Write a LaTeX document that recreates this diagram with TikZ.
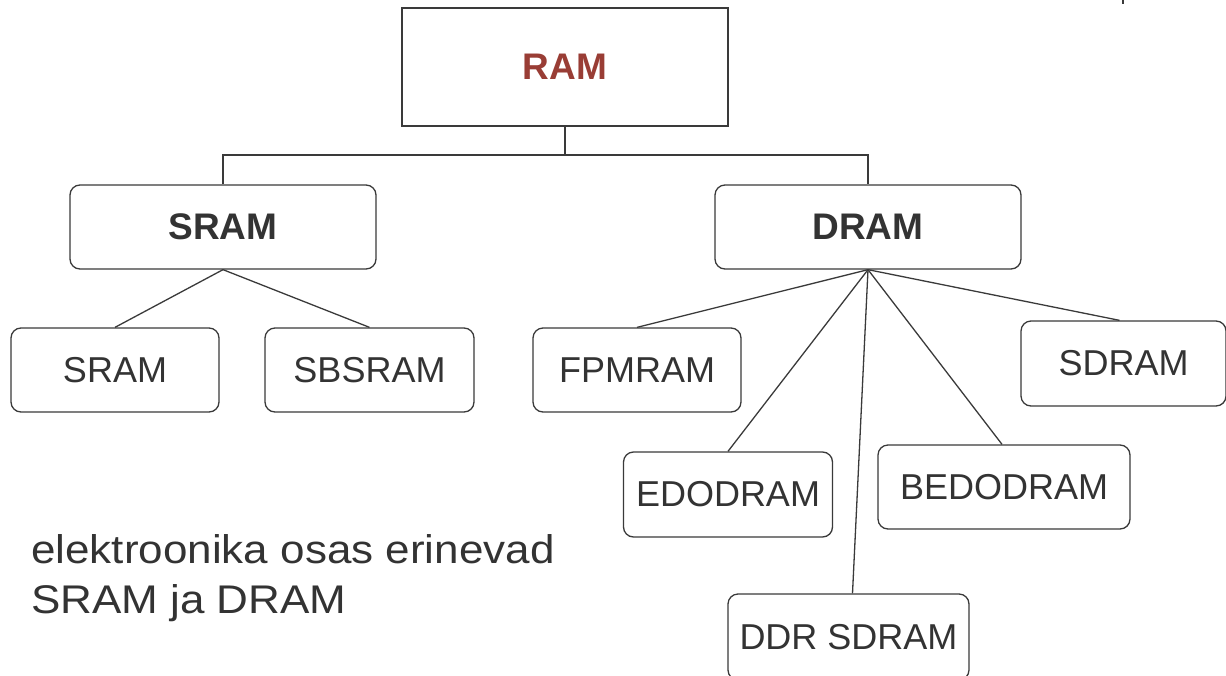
\documentclass[tikz,border=0pt]{standalone}
\usepackage{fontspec}
\setmainfont{Liberation Sans}
\definecolor{ink}{HTML}{333333}
\definecolor{wire}{HTML}{3A3A3A}
\definecolor{ramred}{HTML}{993D35}
\tikzset{
  box/.style={draw=wire, line width=1.3pt, inner sep=0pt, text=ink, fill=white},
  roundbox/.style={box, rounded corners=10pt},
  leaf/.style={roundbox, font=\fontsize{36}{40}\selectfont},
  branch/.style={roundbox, font=\fontsize{37}{40}\selectfont\bfseries},
  link/.style={draw=wire, line width=1.3pt},
}
\newcommand{\widetext}[1]{\scalebox{1.1}[1]{#1}}
\begin{document}
\begin{tikzpicture}[x=1pt, y=-1pt]
  \useasboundingbox (0,0) rectangle (1226,675);
  \clip (0,0) rectangle (1226,675);

  % root
  \node[box, minimum width=326pt, minimum height=118pt,
        font=\fontsize{37}{40}\selectfont\bfseries, text=ramred] (ram) at (565,67) {RAM};

  % two families
  \node[branch, minimum width=306pt, minimum height=84pt] (sram) at (223,227) {SRAM};
  \node[branch, minimum width=306pt, minimum height=84pt] (dram) at (868,227) {DRAM};

  % static types
  \node[leaf, minimum width=208pt, minimum height=84pt] (s1) at (115,370) {SRAM};
  \node[leaf, minimum width=209pt, minimum height=84pt] (s2) at (369.5,370) {SBSRAM};

  % dynamic types
  \node[leaf, minimum width=208pt, minimum height=84pt] (fpm) at (637,370) {FPMRAM};
  \node[leaf, minimum width=205pt, minimum height=85pt] (sd) at (1123.5,363.5) {SDRAM};
  \node[leaf, minimum width=209pt, minimum height=85pt] (edo) at (728,494.5) {EDODRAM};
  \node[leaf, minimum width=252pt, minimum height=84pt] (bedo) at (1004,487) {BEDODRAM};
  \node[leaf, minimum width=241pt, minimum height=86pt] (ddr) at (848.5,637) {DDR SDRAM};

  % tree connectors
  \coordinate (hub) at (565,155);
  \draw[link] (ram.south) -- (hub);
  \draw[link] (sram.north) |- (hub) -| (dram.north);

  \draw[link] (sram.south) -- (s1.north);
  \draw[link] (sram.south) -- (s2.north);

  \draw[link] (dram.south) -- (fpm.north);
  \draw[link] (dram.south) -- ([xshift=-4pt]sd.north);
  \draw[link] (dram.south) -- (edo.north);
  \draw[link] (dram.south) -- ([xshift=-2pt]bedo.north);
  \draw[link] (dram.south) -- ([xshift=4pt]ddr.north);

  % note (anchored at the baseline of its last line)
  \node[anchor=base west, align=left, inner sep=0pt, text=ink,
        font=\fontsize{40}{50}\selectfont] (note) at (31,613)
    {\widetext{elektroonika osas erinevad}\\\widetext{SRAM ja DRAM}};

  % small tick at the top edge
  \coordinate (tickA) at (1123,0);
  \coordinate (tickB) at (1123,4);
  \draw[draw=wire, line width=1.5pt] (tickA) -- (tickB);
\end{tikzpicture}
\end{document}
